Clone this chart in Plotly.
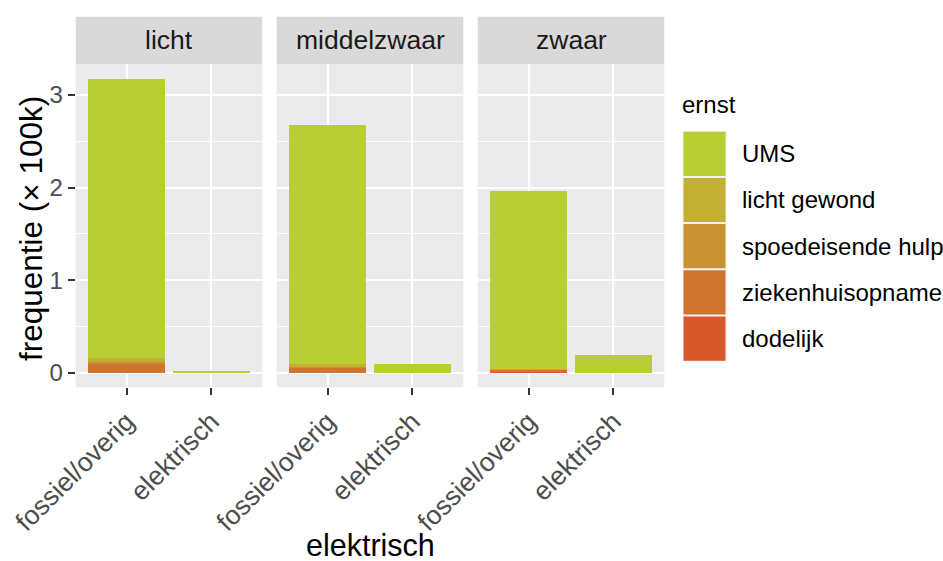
import plotly.graph_objects as go

panels = ["licht", "middelzwaar", "zwaar"]
aandrijving = ["fossiel/overig", "elektrisch"]
ernst = ["UMS", "licht gewond", "spoedeisende hulp", "ziekenhuisopname", "dodelijk"]
kleuren = ["#b9cd35", "#c2af33", "#c99131", "#d0752f", "#d8572c"]

# values in units of 100k, per panel: [fossiel/overig, elektrisch]
UMS = {"licht": [3.012, 0.015], "middelzwaar": [2.580, 0.095], "zwaar": [1.915, 0.197]}
licht_gewond = {"licht": [0.045, 0.0003], "middelzwaar": [0.025, 0.001], "zwaar": [0.010, 0.001]}
spoedeisende_hulp = {"licht": [0.020, 0.0001], "middelzwaar": [0.015, 0.0005], "zwaar": [0.005, 0.0005]}
ziekenhuisopname = {"licht": [0.090, 0.0001], "middelzwaar": [0.050, 0.0005], "zwaar": [0.022, 0.0005]}
dodelijk = {"licht": [0.005, 0.0], "middelzwaar": [0.005, 0.0], "zwaar": [0.008, 0.0]}
series = [UMS, licht_gewond, spoedeisende_hulp, ziekenhuisopname, dodelijk]

W, H = 943, 561
font = "Liberation Sans, Arial, sans-serif"
FS_X = 26.5
FS_Y = 24
FS_STRIP = 26.5
FS_LEG = 24
FT = 30.5

def px_x(p):
    return p / W

def px_y(p):
    return 1 - p / H

panel_x = [(75.7, 262.3), (276.7, 463.3), (477.7, 664.3)]
top_px, bot_px = 64.3, 387.3
strip_top = 16.7

fig = go.Figure()
for i, pnl in enumerate(panels):
    ax = "x" if i == 0 else f"x{i+1}"
    ay = "y" if i == 0 else f"y{i+1}"
    for k in reversed(range(len(ernst))):
        fig.add_trace(go.Bar(
            x=aandrijving, y=series[k][pnl], name=ernst[k],
            marker=dict(color=kleuren[k], line=dict(width=0)),
            width=0.9, xaxis=ax, yaxis=ay, showlegend=False,
            hovertemplate=f"{ernst[k]}: %{{y}}<extra></extra>",
        ))

layout = dict(
    width=W, height=H, barmode="stack",
    paper_bgcolor="white", plot_bgcolor="#ebebeb",
    margin=dict(l=0, r=0, t=0, b=0, autoexpand=False),
    font=dict(family=font, color="#1a1a1a"),
    showlegend=False,
)
for i in range(3):
    key = "xaxis" if i == 0 else f"xaxis{i+1}"
    layout[key] = dict(
        domain=[px_x(panel_x[i][0]), px_x(panel_x[i][1])],
        range=[-0.6, 1.6], anchor="y" if i == 0 else f"y{i+1}", type="category",
        showgrid=True, gridcolor="white", gridwidth=2.2,
        ticks="outside", ticklen=7, tickwidth=2, tickcolor="#333333",
        tickangle=-45, tickfont=dict(size=FS_X, color="#4d4d4d", family=font),
        zeroline=False, showline=False, fixedrange=True, automargin=False,
    )
for i in range(3):
    key = "yaxis" if i == 0 else f"yaxis{i+1}"
    layout[key] = dict(
        domain=[px_y(bot_px), px_y(top_px)], range=[-0.154, 3.330],
        tickvals=[0, 1, 2, 3], ticktext=["0", "1", "2", "3"],
        showticklabels=(i == 0), ticks="outside" if i == 0 else "",
        ticklen=7, tickwidth=2, tickcolor="#333333",
        tickfont=dict(size=FS_Y, color="#4d4d4d", family=font),
        showgrid=True, gridcolor="white", gridwidth=2.2,
        minor=dict(tickvals=[0.5, 1.5, 2.5], showgrid=True, gridcolor="white", gridwidth=1.1, ticks=""),
        zeroline=False, showline=False, fixedrange=True, automargin=False,
        anchor="x" if i == 0 else f"x{i+1}",
    )
fig.update_layout(**layout)

shapes = []
annotations = []
# strips
for i, pnl in enumerate(panels):
    x0, x1 = panel_x[i]
    shapes.append(dict(type="rect", xref="paper", yref="paper",
                       x0=px_x(x0), x1=px_x(x1), y0=px_y(top_px), y1=px_y(strip_top),
                       fillcolor="#d9d9d9", line=dict(width=0), layer="below"))
    annotations.append(dict(text=pnl, xref="paper", yref="paper",
                            x=px_x((x0 + x1) / 2), y=px_y((top_px + strip_top) / 2),
                            showarrow=False, font=dict(size=FS_STRIP, color="#1a1a1a", family=font),
                            xanchor="center", yanchor="middle"))

# axis titles
annotations.append(dict(text="elektrisch", xref="paper", yref="paper",
                        x=px_x((75.7 + 664.3) / 2), y=px_y(544.5), showarrow=False,
                        font=dict(size=FT, color="#000000", family=font),
                        xanchor="center", yanchor="middle"))
annotations.append(dict(text="frequentie (× 100k)", xref="paper", yref="paper",
                        x=px_x(31), y=px_y(229), showarrow=False,
                        textangle=-90, font=dict(size=31.5, color="#000000", family=font),
                        xanchor="center", yanchor="middle"))

# legend (drawn manually to match large keys)
annotations.append(dict(text="ernst", xref="paper", yref="paper",
                        x=px_x(680), y=px_y(104), showarrow=False,
                        font=dict(size=FS_LEG, color="#000000", family=font),
                        xanchor="left", yanchor="middle"))
key_top = 130.7
key_h = 46.2
for k, name in enumerate(ernst):
    y0 = key_top + k * key_h
    shapes.append(dict(type="rect", xref="paper", yref="paper",
                       x0=px_x(682.5), x1=px_x(726.5), y0=px_y(y0 + key_h), y1=px_y(y0),
                       fillcolor="#f2f2f2", line=dict(width=0)))
    shapes.append(dict(type="rect", xref="paper", yref="paper",
                       x0=px_x(683.5), x1=px_x(725.5), y0=px_y(y0 + key_h - 1), y1=px_y(y0 + 1),
                       fillcolor=kleuren[k], line=dict(width=0)))
    annotations.append(dict(text=name, xref="paper", yref="paper",
                            x=px_x(739.5), y=px_y(y0 + key_h / 2), showarrow=False,
                            font=dict(size=FS_LEG, color="#000000", family=font),
                            xanchor="left", yanchor="middle"))

fig.update_layout(shapes=shapes, annotations=annotations)
fig.write_html(
    "out.html",
    config={"displayModeBar": False},
    post_script="document.body.style.margin='0';document.body.style.overflow='hidden';",
)
